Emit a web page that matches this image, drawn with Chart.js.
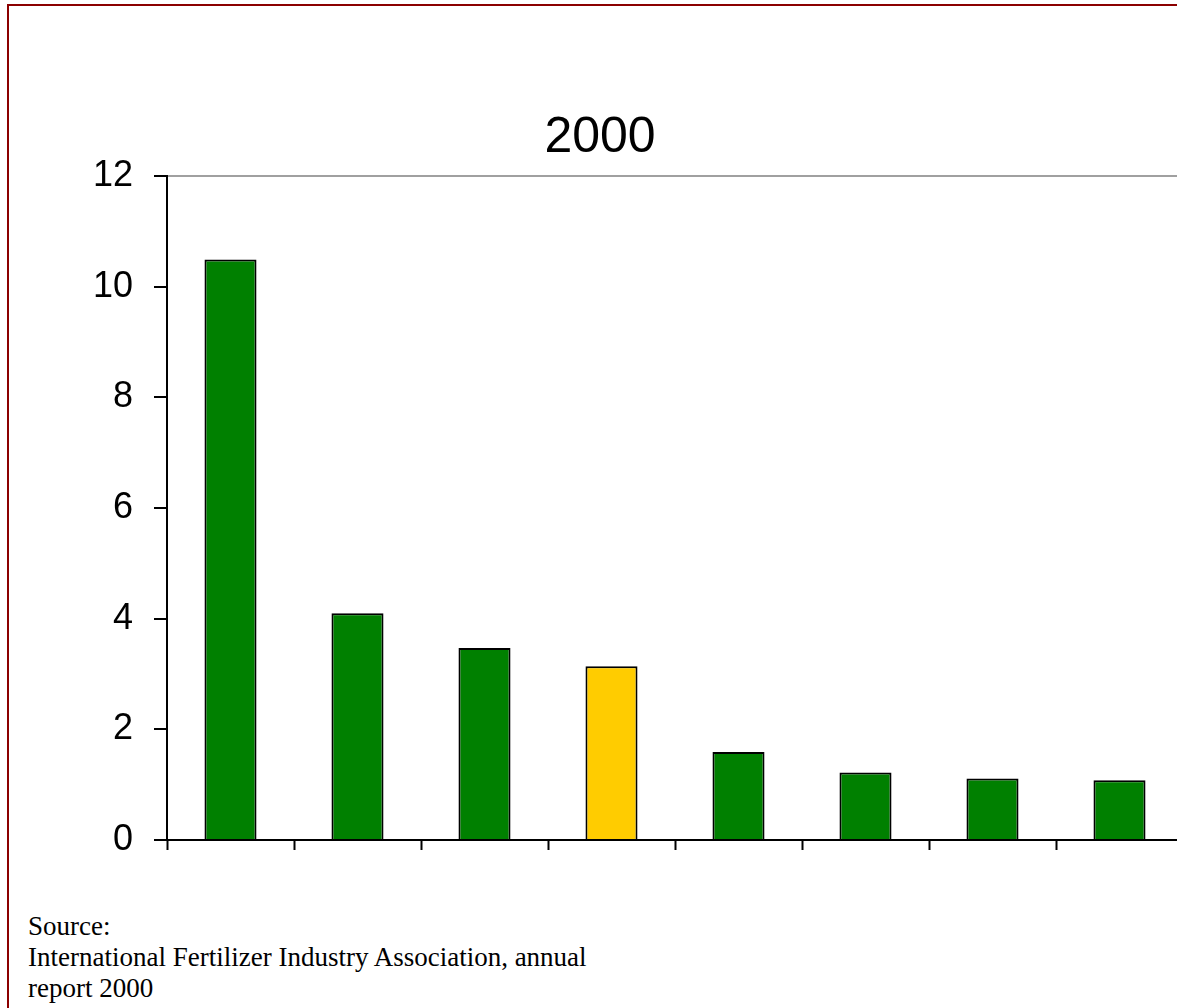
<!DOCTYPE html>
<html>
<head>
<meta charset="utf-8">
<script src="https://cdn.jsdelivr.net/npm/chart.js@4/dist/chart.umd.min.js"></script>
<style>
  html, body { margin: 0; padding: 0; background: #fff; overflow: hidden; }
  body { width: 1177px; height: 1008px; position: relative; }
  #frame {
    position: absolute; left: 7px; top: 4px; width: 1300px; height: 1100px;
    border-left: 2px solid #8b0000; border-top: 2px solid #8b0000;
  }
  #wrap { position: absolute; left: 0; top: 0; width: 1183px; height: 860px; }
  #source {
    position: absolute; left: 28px; top: 911px;
    font-family: "Liberation Serif", "Times New Roman", serif;
    font-size: 27px; line-height: 31px; color: #000;
  }
</style>
</head>
<body>
<div id="frame"></div>
<div id="wrap"><canvas id="myChart"></canvas></div>
<div id="source">Source:<br>International Fertilizer Industry Association, annual<br>report 2000</div>
<script>
// the reference shows no category names under the bars
let categories = ['', '', '', '', '', '', '', ''];
let values = [10.49, 4.10, 3.47, 3.14, 1.59, 1.22, 1.11, 1.08];
let yTicks = [0, 2, 4, 6, 8, 10, 12];
let highlight = 3; // the yellow bar

let colors = [];
for (let i = 0; i < values.length; i++) {
  colors.push(i === highlight ? '#ffcc00' : '#008000');
}

const ctx = document.getElementById('myChart').getContext('2d');
const myChart = new Chart(ctx, {
  type: 'bar',
  data: {
    labels: categories,
    datasets: [{
      data: values,
      backgroundColor: colors,
      borderColor: '#000',
      borderWidth: 2,
      barPercentage: 0.41,
      categoryPercentage: 1.0
    }]
  },
  options: {
    responsive: true,
    maintainAspectRatio: false,
    animation: false,
    layout: { padding: { left: 17, top: 0, right: 0, bottom: 0 } },
    plugins: {
      legend: { display: false },
      tooltip: { enabled: false },
      title: {
        display: true,
        text: '2000',
        color: '#000',
        font: { family: 'Liberation Sans, Arial, sans-serif', size: 50, weight: 'normal', lineHeight: 1.2 },
        padding: { top: 108, bottom: 8 }
      }
    },
    scales: {
      x: {
        grid: {
          drawOnChartArea: false,
          drawTicks: true,
          tickLength: 10,
          tickColor: '#000',
          tickWidth: 2,
          offset: true
        },
        border: { color: '#000', width: 2 },
        ticks: { display: false },
        afterFit: function(scale) { scale.height = 20; }
      },
      y: {
        min: 0,
        max: 12,
        afterBuildTicks: function(scale) {
          scale.ticks = yTicks.map(v => ({ value: v }));
        },
        grid: {
          color: function(c) { return c.tick && c.tick.value === 12 ? '#a0a0a0' : 'rgba(0,0,0,0)'; },
          lineWidth: 2,
          drawTicks: true,
          tickLength: 13,
          tickColor: '#000',
          tickWidth: 2
        },
        border: { color: '#000', width: 2 },
        ticks: {
          color: '#000',
          padding: 21,
          font: { family: 'Liberation Sans, Arial, sans-serif', size: 36 }
        },
        afterFit: function(scale) {
          scale.width = 150;
          // let the 0 label hang over the x axis instead of shrinking the plot
          scale.paddingTop = 0;
          scale.paddingBottom = 0;
        }
      }
    }
  }
});
</script>
</body>
</html>
